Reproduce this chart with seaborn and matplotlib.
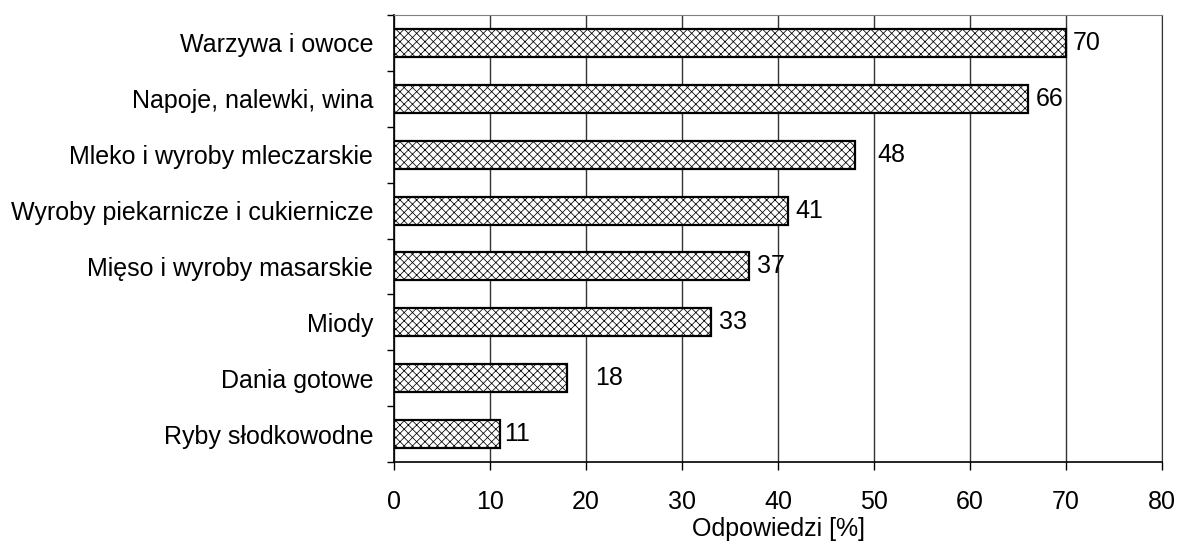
import numpy as np
import pandas as pd
import matplotlib
matplotlib.use("Agg")
import matplotlib.pyplot as plt
import seaborn as sns

# Data
categories = ["Warzywa i owoce", "Napoje, nalewki, wina", "Mleko i wyroby mleczarskie",
              "Wyroby piekarnicze i cukiernicze", "Mięso i wyroby masarskie", "Miody",
              "Dania gotowe", "Ryby słodkowodne"]
values = [70, 66, 48, 41, 37, 33, 18, 11]
x_ticks = [0, 10, 20, 30, 40, 50, 60, 70, 80]

# extra label gap (in data units) where the original labels sit further out
label_gap = [0.7, 0.8, 2.4, 0.8, 0.8, 0.8, 3.0, 0.5]

sns.set_style("white")
plt.rcParams['font.family'] = ['Liberation Sans', 'DejaVu Sans']
plt.rcParams['hatch.linewidth'] = 0.55
plt.rcParams['hatch.color'] = '#222222'
plt.rcParams['text.color'] = 'black'
plt.rcParams['axes.labelcolor'] = 'black'
plt.rcParams['xtick.color'] = 'black'
plt.rcParams['ytick.color'] = 'black'

df = pd.DataFrame({"kategoria": categories, "odp": values})

fig = plt.figure(figsize=(11.79, 5.5), dpi=100)
ax = fig.add_axes([0.3342, 0.16, 0.6514, 0.8127])

sns.barplot(data=df, y="kategoria", x="odp", orient="h", color="white",
            edgecolor="black", linewidth=1.6, width=0.5, hatch="xxxx", ax=ax)

ax.set_xlim(0, 80)
ax.set_ylim(7.5, -0.5)
ax.set_xticks(x_ticks)
ax.xaxis.grid(True, color="#333333", linewidth=1.0)
ax.set_axisbelow(True)

for i, v in enumerate(values):
    ax.text(v + label_gap[i], i, str(v), va="center", ha="left", fontsize=18)

ax.set_yticks(np.arange(-0.5, len(categories), 1.0), minor=True)
ax.tick_params(axis="y", which="major", left=True, length=0, pad=15, labelsize=18)
ax.tick_params(axis="y", which="minor", left=True, length=5, width=1, direction="out")
ax.tick_params(axis="x", bottom=True, length=6, width=1, direction="out",
               labelsize=18, pad=14)
ax.set_ylabel("")
ax.set_xlabel("Odpowiedzi [%]", fontsize=18, labelpad=2)

for s in ["left", "bottom"]:
    ax.spines[s].set_color("black")
    ax.spines[s].set_linewidth(1.2)
ax.spines["top"].set_color("#808080")
ax.spines["right"].set_color("#333333")

fig.savefig("out.png", dpi=100)
